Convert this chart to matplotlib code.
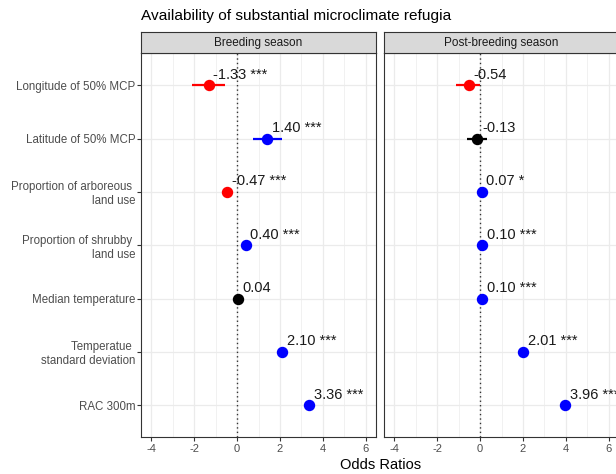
import matplotlib
matplotlib.use("Agg")
import matplotlib.pyplot as plt
import numpy as np

plt.rcParams['font.family'] = ['Liberation Sans', 'DejaVu Sans']

title = "Availability of substantial microclimate refugia"
panels = ["Breeding season", "Post-breeding season"]
predictors = ["Longitude of 50% MCP", "Latitude of 50% MCP",
              "Proportion of arboreous \nland use", "Proportion of shrubby \nland use",
              "Median temperature", "Temperatue \nstandard deviation", "RAC 300m"]

breeding_est = [-1.33, 1.40, -0.47, 0.40, 0.04, 2.10, 3.36]
breeding_lo = [-2.09, 0.74, -0.57, 0.30, -0.06, 2.00, 3.26]
breeding_hi = [-0.55, 2.08, -0.37, 0.50, 0.14, 2.20, 3.46]
breeding_sig = ["***", "***", "***", "***", "", "***", "***"]

post_est = [-0.54, -0.13, 0.07, 0.10, 0.10, 2.01, 3.96]
post_lo = [-1.12, -0.59, 0.02, 0.05, 0.05, 1.91, 3.86]
post_hi = [-0.01, 0.34, 0.12, 0.15, 0.15, 2.11, 4.06]
post_sig = ["", "", "*", "***", "***", "***", "***"]

x_ticks = [-4, -2, 0, 2, 4, 6]
x_label = "Odds Ratios"

W, H = 616, 474
fig = plt.figure(figsize=(W / 100, H / 100), dpi=100)

def fx(px):
    return px / W

def fy(py):
    return 1 - py / H

panel_left = [140.7, 383.7]
panel_w = 235.6
panel_top, panel_bot = 53.3, 437.3
strip_top = 32.3

data = [(breeding_est, breeding_lo, breeding_hi, breeding_sig),
        (post_est, post_lo, post_hi, post_sig)]

n = len(predictors)
ypos = np.arange(n)[::-1] + 1  # first predictor at top

for i, (est, lo, hi, sig) in enumerate(data):
    ax = fig.add_axes([fx(panel_left[i]), fy(panel_bot), panel_w / W,
                       (panel_bot - panel_top) / H])
    ax.set_xlim(-4.5, 6.5)
    ax.set_ylim(0.4, n + 0.6)
    ax.set_facecolor("white")
    # grid
    for xv in x_ticks:
        ax.axvline(xv, color="#EBEBEB", lw=0.9, zorder=0)
    for xv in [-3, -1, 1, 3, 5]:
        ax.axvline(xv, color="#EBEBEB", lw=0.5, zorder=0)
    for yv in ypos:
        ax.axhline(yv, color="#EBEBEB", lw=0.9, zorder=0)
    ax.axvline(0, color="#333333", lw=1.0, ls=(0, (1, 2.2)), zorder=1)
    for j in range(n):
        if hi[j] < 0:
            c = "#FF0000"
        elif lo[j] > 0:
            c = "#0000FF"
        else:
            c = "black"
        ax.hlines(ypos[j], lo[j], hi[j], color=c, lw=1.6, zorder=2)
        ax.plot(est[j], ypos[j], "o", color=c, markersize=7.2, zorder=3)
        lab = f"{est[j]:.2f}" + (f" {sig[j]}" if sig[j] else "")
        ax.text(est[j] + 0.22, ypos[j] + 0.2, lab, fontsize=10.5, color="#1A1A1A",
                ha="left", va="center", zorder=4)
    ax.set_xticks(x_ticks)
    ax.set_xticklabels([str(t) for t in x_ticks])
    ax.tick_params(axis="x", length=3, width=0.8, color="#333333", labelsize=8,
                   labelcolor="#4D4D4D", pad=2)
    ax.set_yticks(ypos)
    if i == 0:
        ax.set_yticklabels(predictors)
        ax.tick_params(axis="y", length=3, width=0.8, color="#333333", labelsize=8.3,
                       labelcolor="#4D4D4D", pad=1)
    else:
        ax.set_yticklabels([])
        ax.tick_params(axis="y", length=0)
    for s in ax.spines.values():
        s.set_color("#333333")
        s.set_linewidth(0.8)
    # strip
    sax = fig.add_axes([fx(panel_left[i]), fy(panel_top), panel_w / W,
                        (panel_top - strip_top) / H])
    sax.set_facecolor("#D9D9D9")
    sax.set_xticks([])
    sax.set_yticks([])
    for s in sax.spines.values():
        s.set_color("#333333")
        s.set_linewidth(0.8)
    sax.text(0.5, 0.5, panels[i], ha="center", va="center", fontsize=8.5,
             color="#1A1A1A", transform=sax.transAxes)

fig.text(fx(141), fy(16), title, ha="left", va="center", fontsize=11.1, color="black")
fig.text(fx(381), fy(465), x_label, ha="center", va="center", fontsize=10.5, color="black")

fig.savefig("out.png", dpi=100)
